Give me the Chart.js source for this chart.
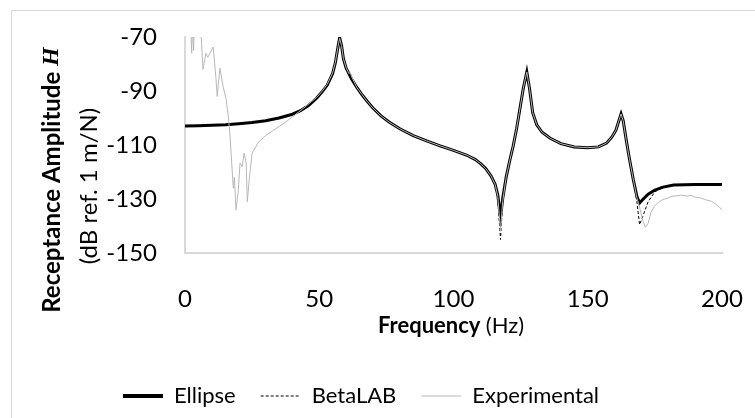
<!DOCTYPE html>
<html>
<head>
<meta charset="utf-8">
<script src="https://cdn.jsdelivr.net/npm/chart.js@4.4.1/dist/chart.umd.min.js"></script>
<style>
  html, body { margin: 0; padding: 0; background: #fff; overflow: hidden; }
  #frame { position: absolute; left: 11px; top: 10px; width: 800px; height: 500px; border: 1px solid #d9d9d9; }
  #wrap { position: absolute; left: 0; top: 0; width: 755px; height: 418px; }
</style>
</head>
<body>
<div id="frame"></div>
<div id="wrap"><canvas id="chart" width="755" height="418"></canvas></div>
<script>
// model curves (Ellipse + BetaLAB share the frequency grid)
const modelFreq = [0, 5, 10, 15, 20, 25, 30, 35, 40, 43, 46, 49, 51, 53, 55, 56, 57, 57.6, 58.3, 59, 60, 62, 64, 66, 68, 70, 73, 76, 80, 85, 90, 95, 100, 105, 108, 110, 112, 114, 115.5, 116.5, 117.5, 118.3, 119.6, 121, 122.2, 123.5, 124.5, 126, 127.3, 128.3, 129.5, 131, 133, 136, 140, 145, 150, 154, 157, 159, 160.5, 161.6, 162.4, 163.2, 164.3, 165.5, 167, 168.3, 169.3, 170.5, 172.5, 175, 178, 182, 190, 200];
const ellipseDb = [-103, -102.9, -102.7, -102.5, -102.1, -101.7, -101, -100, -98.6, -97.3, -95.4, -92.7, -90.4, -87.8, -83.5, -79.5, -73.5, -70.3, -73.2, -78, -81.5, -85.5, -88.7, -91.5, -94, -96.3, -99.2, -101.5, -104, -106.5, -108.5, -110.3, -112, -113.8, -115.3, -116.8, -118.7, -121.5, -124.5, -128.5, -137, -130, -122, -115.5, -110.5, -104, -98, -89, -83, -89, -98, -102.5, -105.3, -107.5, -109.5, -110.7, -111, -110.7, -109.3, -107, -104.5, -101, -98.5, -101, -108, -115, -123, -129, -131.5, -130.2, -128.2, -126.7, -125.6, -124.8, -124.6, -124.6];
const betaLabDb = [-103, -102.9, -102.7, -102.5, -102.1, -101.7, -101, -100, -98.6, -97.3, -95.4, -92.7, -90.4, -87.8, -83.5, -79.5, -73.5, -70.3, -73.2, -78, -81.5, -85.5, -88.7, -91.5, -94, -96.3, -99.2, -101.5, -104, -106.5, -108.5, -110.3, -112, -113.8, -115.3, -116.8, -118.7, -121.5, -124.8, -130, -145, -131, -122, -115.5, -110.5, -104, -98, -89, -83, -89, -98, -102.5, -105.3, -107.5, -109.5, -110.7, -111, -110.7, -109.3, -107, -104.5, -101, -98.5, -101, -108, -115, -123, -131, -139.5, -136.5, -131, -127.3, -125.8, -124.8, -124.6, -124.6];

// measured curve
const expFreq = [0, 2, 2.5, 2.8, 3.2, 3.5, 5, 5.8, 6.7, 7.8, 8.5, 9.3, 10.5, 11.5, 12, 13, 14.2, 15.3, 16.2, 16.8, 17.6, 18, 18.4, 19, 19.8, 20.5, 21.3, 22, 22.8, 23.2, 24, 25, 27.3, 30, 33, 36.8, 40, 44, 47, 49, 51, 53, 55, 56, 57, 57.6, 58.3, 59, 60, 61, 61.6, 62.2, 64, 66, 68, 70, 73, 76, 80, 85, 90, 95, 100, 105, 108, 110, 112, 114, 115.5, 116.5, 117.5, 118.3, 119.6, 121, 122.2, 123.5, 124.5, 126, 127.3, 128.3, 129.5, 131, 133, 136, 140, 145, 150, 154, 157, 159, 160.5, 161.6, 162.4, 163.2, 164.3, 165.5, 167, 168.3, 169.3, 170.5, 171.5, 172.5, 173.5, 175, 176.5, 178, 179.5, 181, 183, 185, 187, 188.5, 190, 192, 194, 196, 197.5, 199, 200];
const expDb = [-65, -62, -76, -64, -75, -63, -60, -66, -82, -76, -77.5, -76, -73.7, -85, -92, -81.5, -88.5, -93, -100, -107, -120, -126, -122, -134, -127.5, -116.7, -118, -113, -116.7, -131, -122, -113, -109, -106.5, -104.5, -102, -99.6, -96.5, -94, -92.4, -90.2, -87.5, -83.3, -79.3, -73.5, -70.5, -73.2, -78, -81.3, -83.5, -83.2, -85, -88.7, -91.4, -94, -96.3, -99.2, -101.5, -104, -106.5, -108.5, -110.3, -112, -113.8, -115.3, -116.8, -118.7, -121.5, -124.6, -129, -142, -131, -122, -115.5, -110.5, -104, -98, -89, -83, -89, -98, -102.5, -105.3, -107.5, -109.5, -110.7, -111, -110.7, -109.3, -107, -104.5, -101, -98.5, -101, -108, -115, -123, -129.5, -133, -138, -140.5, -139, -135, -132.5, -131, -130.2, -129.8, -129.1, -128.8, -128.6, -128.9, -128.7, -129.3, -129.6, -130.3, -130.8, -131.8, -133, -134];

const xTicks = [0, 50, 100, 150, 200];
const yTicks = [-150, -130, -110, -90, -70];

const FONT = 'Lato, "Open Sans", sans-serif';

function toPoints(xs, ys) {
  return xs.map(function(x, i) { return { x: x, y: ys[i] }; });
}

const titlePlugin = {
  id: 'axisTitles',
  afterDraw: function(chart) {
    const ctx = chart.ctx;
    ctx.save();
    ctx.fillStyle = '#000';
    ctx.textBaseline = 'middle';

    // y title, line 1: bold text + bold italic serif H
    const boldFont = 'bold 24px ' + FONT;
    const hFont = 'italic bold 24px "Liberation Serif", serif';
    ctx.font = boldFont;
    const part1 = 'Receptance Amplitude ';
    const w1 = ctx.measureText(part1).width;
    ctx.font = hFont;
    const w2 = ctx.measureText('H').width;
    ctx.translate(52, 180);
    ctx.rotate(-Math.PI / 2);
    ctx.textAlign = 'left';
    ctx.font = boldFont;
    ctx.fillText(part1, -(w1 + w2) / 2, 0);
    ctx.font = hFont;
    ctx.fillText('H', -(w1 + w2) / 2 + w1, 0);
    ctx.restore();

    ctx.save();
    ctx.fillStyle = '#000';
    ctx.textBaseline = 'middle';
    ctx.textAlign = 'center';
    ctx.translate(89, 186);
    ctx.rotate(-Math.PI / 2);
    ctx.font = '24px ' + FONT;
    ctx.fillText('(dB ref. 1 m/N)', 0, 0);
    ctx.restore();

    // x title: bold "Frequency" + regular "(Hz)"
    ctx.save();
    ctx.fillStyle = '#000';
    ctx.textBaseline = 'middle';
    ctx.textAlign = 'left';
    const fb = 'bold 22px ' + FONT;
    const fr = '22px ' + FONT;
    ctx.font = fb;
    const a = 'Frequency ';
    const wa = ctx.measureText(a).width;
    ctx.font = fr;
    const wb = ctx.measureText('(Hz)').width;
    const cx = 451;
    ctx.font = fb;
    ctx.fillText(a, cx - (wa + wb) / 2, 326);
    ctx.font = fr;
    ctx.fillText('(Hz)', cx - (wa + wb) / 2 + wa, 326);
    ctx.restore();
  }
};

const ctx = document.getElementById('chart').getContext('2d');
new Chart(ctx, {
  type: 'line',
  data: {
    datasets: [
      { label: 'Ellipse', data: toPoints(modelFreq, ellipseDb), borderColor: '#000', backgroundColor: '#000', borderWidth: 3, pointRadius: 0, tension: 0, order: 2, clip: 0 },
      { label: 'BetaLAB', data: toPoints(modelFreq, betaLabDb), borderColor: '#000', backgroundColor: '#000', borderWidth: 1, borderDash: [3, 2], pointRadius: 0, tension: 0, order: 1, clip: 0 },
      { label: 'Experimental', data: toPoints(expFreq, expDb), borderColor: '#b8b8b8', backgroundColor: '#b8b8b8', borderWidth: 1, pointRadius: 0, tension: 0, order: 0, clip: 0 }
    ]
  },
  options: {
    responsive: false,
    animation: false,
    layout: { padding: { left: 0, right: 33, top: 37, bottom: 1 } },
    plugins: {
      tooltip: { enabled: false },
      legend: {
        position: 'bottom',
        labels: {
          usePointStyle: true,
          pointStyle: 'line',
          pointStyleWidth: 40,
          boxHeight: 23,
          padding: 25,
          color: '#000',
          font: { family: FONT, size: 22 },
          sort: function(a, b) { return a.datasetIndex - b.datasetIndex; },
          generateLabels: function(chart) {
            return chart.data.datasets.map(function(ds, i) {
              return {
                text: ds.label,
                datasetIndex: i,
                fillStyle: ds.borderColor,
                strokeStyle: ds.borderColor,
                fontColor: '#000',
                lineWidth: ds.borderWidth === 3 ? 4 : ds.borderWidth,
                lineDash: ds.borderDash || [],
                pointStyle: 'line',
                hidden: false
              };
            });
          }
        }
      }
    },
    scales: {
      x: {
        type: 'linear',
        min: 0,
        max: 200,
        afterBuildTicks: function(scale) { scale.ticks = xTicks.map(function(v) { return { value: v }; }); },
        afterFit: function(scale) {
          scale.height = 418 - 1 - scale.chart.legend.height - 253;
          scale.paddingLeft = 0;
          scale.paddingRight = 0;
        },
        grid: { display: false },
        border: { display: true, color: '#d9d9d9', width: 2 },
        ticks: { color: '#000', padding: 24, font: { family: FONT, size: 24 } }
      },
      y: {
        min: -150,
        max: -70,
        afterBuildTicks: function(scale) { scale.ticks = yTicks.map(function(v) { return { value: v }; }); },
        afterFit: function(scale) { scale.width = 185; },
        grid: { display: false },
        border: { display: true, color: '#d9d9d9', width: 2 },
        ticks: { color: '#000', padding: 20, font: { family: FONT, size: 24 } }
      }
    }
  },
  plugins: [titlePlugin]
});
</script>
</body>
</html>
